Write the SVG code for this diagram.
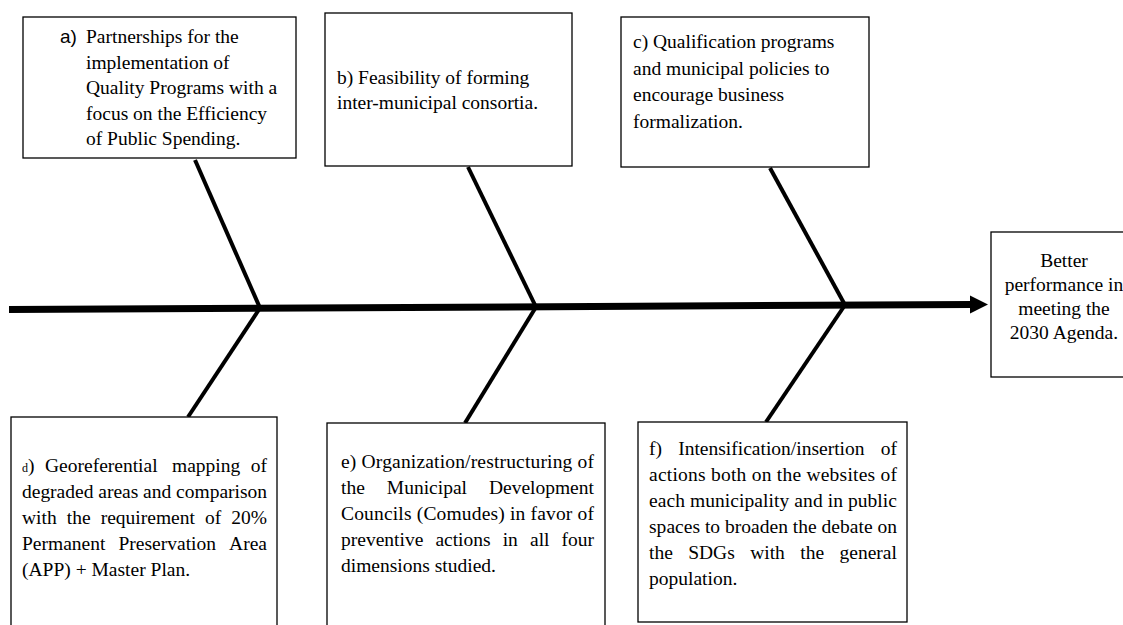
<svg xmlns="http://www.w3.org/2000/svg" width="1123" height="625" viewBox="0 0 1123 625">
<style>
.box{fill:#fff;stroke:#000;stroke-width:1.3}
.t{font-family:"Liberation Serif","Times New Roman",serif;font-size:19.5px;fill:#000}
.s{font-family:"Liberation Sans",Arial,sans-serif;font-size:19px;fill:#000}
.bone{stroke:#000;stroke-width:4;fill:none}
.spine{stroke:#000;stroke-width:7;fill:none}
</style>
<defs>
<marker id="arr" markerUnits="userSpaceOnUse" markerWidth="19" markerHeight="19" refX="0" refY="9" orient="auto">
<path d="M0,0 L18,9 L0,18 Z" fill="#000"/>
</marker>
</defs>
<rect width="1123" height="625" fill="#fff"/>
<g id="connectors">
<line class="spine" x1="9" y1="309.5" x2="970" y2="304.5" marker-end="url(#arr)"/>
<line class="bone" x1="195" y1="160" x2="260" y2="308"/>
<line class="bone" x1="468" y1="167" x2="536" y2="307"/>
<line class="bone" x1="770" y1="168" x2="845" y2="305"/>
<line class="bone" x1="260" y1="308" x2="188" y2="417"/>
<line class="bone" x1="536" y1="307" x2="465" y2="423"/>
<line class="bone" x1="845" y1="305" x2="766" y2="422"/>
</g>
<g id="node-a">
<rect class="box" x="23" y="17" width="273" height="141"/>
<text class="s" x="60" y="43">a)</text>
<text class="t" x="86" y="43">Partnerships for the</text>
<text class="t" x="86" y="68.5">implementation of</text>
<text class="t" x="86" y="94">Quality Programs with a</text>
<text class="t" x="86" y="119.5">focus on the Efficiency</text>
<text class="t" x="86" y="145">of Public Spending.</text>
</g>
<g id="node-b">
<rect class="box" x="325" y="13" width="247" height="153"/>
<text class="t" x="337" y="84">b) Feasibility of forming</text>
<text class="t" x="337" y="109">inter-municipal consortia.</text>
</g>
<g id="node-c">
<rect class="box" x="621" y="17" width="248" height="150"/>
<text class="t" x="633" y="48">c) Qualification programs</text>
<text class="t" x="633" y="74.5">and municipal policies to</text>
<text class="t" x="633" y="101">encourage business</text>
<text class="t" x="633" y="127.5">formalization.</text>
</g>
<g id="node-goal">
<rect class="box" x="991" y="232" width="145" height="145"/>
<text class="t" text-anchor="middle" x="1064" y="267">Better</text>
<text class="t" text-anchor="middle" x="1064" y="291">performance in</text>
<text class="t" text-anchor="middle" x="1064" y="315">meeting the</text>
<text class="t" text-anchor="middle" x="1064" y="339">2030 Agenda.</text>
</g>
<g id="node-d">
<rect class="box" x="11" y="417" width="266" height="220"/>
<text class="t" y="472"><tspan x="22" font-size="12">d</tspan><tspan>)</tspan><tspan x="45">Georeferential</tspan><tspan x="172">mapping</tspan><tspan x="250.8">of</tspan></text>
<text class="t" x="22" y="498" textLength="245" lengthAdjust="spacing">degraded areas and comparison</text>
<text class="t" y="524"><tspan x="22">with</tspan><tspan x="66.8">the</tspan><tspan x="100.7">requirement</tspan><tspan x="205">of</tspan><tspan x="231.3">20%</tspan></text>
<text class="t" y="550"><tspan x="22">Permanent</tspan><tspan x="118.5">Preservation</tspan><tspan x="229.1">Area</tspan></text>
<text class="t" x="22" y="576">(APP) + Master Plan.</text>
</g>
<g id="node-e">
<rect class="box" x="327" y="423" width="278" height="214"/>
<text class="t" x="341" y="468" textLength="253" lengthAdjust="spacing">e) Organization/restructuring of</text>
<text class="t" y="494"><tspan x="341">the</tspan><tspan x="386.8">Municipal</tspan><tspan x="488.9">Development</tspan></text>
<text class="t" x="341" y="520" textLength="253" lengthAdjust="spacing">Councils (Comudes) in favor of</text>
<text class="t" y="546"><tspan x="341">preventive</tspan><tspan x="435.4">actions</tspan><tspan x="502.7">in</tspan><tspan x="530">all</tspan><tspan x="561.6">four</tspan></text>
<text class="t" x="341" y="572">dimensions studied.</text>
</g>
<g id="node-f">
<rect class="box" x="638" y="422" width="269" height="200"/>
<text class="t" y="455"><tspan x="649">f)</tspan><tspan x="678.2">Intensification/insertion</tspan><tspan x="880.7">of</tspan></text>
<text class="t" x="649" y="481" textLength="248" lengthAdjust="spacing">actions both on the websites of</text>
<text class="t" x="649" y="507" textLength="248" lengthAdjust="spacing">each municipality and in public</text>
<text class="t" x="649" y="533" textLength="248" lengthAdjust="spacing">spaces to broaden the debate on</text>
<text class="t" y="559"><tspan x="649">the</tspan><tspan x="688.2">SDGs</tspan><tspan x="750.2">with</tspan><tspan x="800.3">the</tspan><tspan x="839.5">general</tspan></text>
<text class="t" x="649" y="585">population.</text>
</g>
</svg>
